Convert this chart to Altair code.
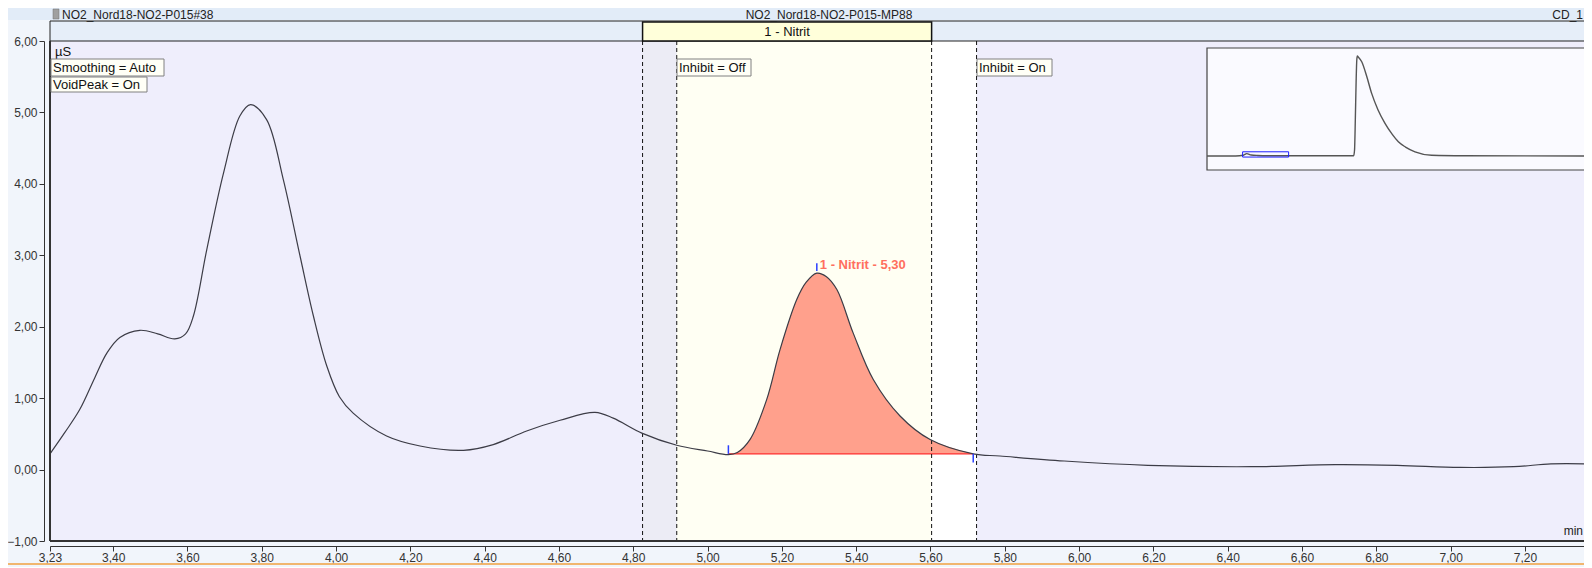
import altair as alt
import pandas as pd

# ---------------- data ----------------
time_min = [3.23, 3.27, 3.31, 3.35, 3.383, 3.418, 3.472, 3.52, 3.566, 3.595, 3.616, 3.652,
            3.697, 3.741, 3.770, 3.813, 3.858, 3.903, 3.939, 3.975, 4.009, 4.046, 4.136,
            4.226, 4.343, 4.423, 4.513, 4.603, 4.697, 4.746, 4.823, 4.917, 5.00, 5.056,
            5.08, 5.114, 5.159, 5.195, 5.240, 5.265, 5.294, 5.32, 5.348, 5.392, 5.446,
            5.518, 5.599, 5.715, 5.787, 5.96, 6.185, 6.465, 6.689, 6.857, 7.025, 7.17,
            7.27, 7.37]
signal_us = [0.22, 0.52, 0.84, 1.28, 1.63, 1.85, 1.95, 1.90, 1.83, 1.90, 2.15, 3.08,
             4.15, 4.95, 5.11, 4.90, 4.06, 2.99, 2.15, 1.45, 1.02, 0.79, 0.47,
             0.33, 0.27, 0.35, 0.54, 0.69, 0.80, 0.72, 0.51, 0.34, 0.26, 0.21,
             0.24, 0.42, 0.98, 1.68, 2.38, 2.62, 2.75, 2.70, 2.52, 1.91, 1.26,
             0.75, 0.42, 0.22, 0.19, 0.12, 0.06, 0.04, 0.07, 0.06, 0.03, 0.04,
             0.08, 0.08]

peak_label = "1 - Nitrit - 5,30"
peak_window_name = "1 - Nitrit"
peak_start = 5.056
peak_apex_t = 5.294
peak_end = 5.715
peak_baseline = 0.22
peak_apex_v = 2.75

window_start = 4.825
window_end = 5.603
inhibit_off_t = 4.917
inhibit_on_t = 5.724

inset_time = [0, 2.6, 3.3, 3.6, 4.0, 4.6, 5.5, 13.30, 13.38, 13.45, 13.52, 13.58, 13.63,
              13.72, 14.03, 14.5, 14.93, 15.5, 16.14, 16.8, 17.35, 18.0, 18.86, 20.37,
              23.3, 36]
inset_signal = [0, 0, 1.5, 4.5, 2, 1, 0.5, 0.5, 12, 70, 140, 182, 190,
                188, 179, 150, 119, 88, 62, 41, 27, 17, 8, 1.5,
                0.5, 0]

x_major = [3.23, 3.4, 3.6, 3.8, 4.0, 4.2, 4.4, 4.6, 4.8, 5.0, 5.2, 5.4, 5.6, 5.8,
           6.0, 6.2, 6.4, 6.6, 6.8, 7.0, 7.2]
x_tick_values = sorted(set(x_major + [round(3.25 + 0.05 * i, 2) for i in range(83)]))
y_tick_values = [round(-1 + 0.25 * i, 2) for i in range(29)]

X_DOMAIN = [3.23, 7.359]
Y_DOMAIN = [-1, 6]
W, H = 1534, 500
FONT = "Liberation Sans"
INTERP = "catmull-rom"

trace = pd.DataFrame({"t": time_min, "v": signal_us})
peak_df = trace[(trace.t >= peak_start) & (trace.t <= peak_end)]

xs = alt.Scale(domain=X_DOMAIN, nice=False, zero=False)
ys = alt.Scale(domain=Y_DOMAIN, nice=False, zero=False)

major_list = "[" + ",".join(str(v) for v in x_major) + "]"
x_axis = alt.Axis(
    values=x_tick_values, offset=5, grid=False, title=None,
    labelExpr=f"indexof({major_list}, round(datum.value*100)/100) >= 0 ? replace(format(datum.value, '.2f'), '.', ',') : ''",
    labelOverlap=False, labelFlush=False, labelFont=FONT, labelFontSize=12, labelColor="#333",
    labelPadding=1, domainColor="#333", tickColor="#333",
    tickSize={"condition": {"test": f"indexof({major_list}, round(datum.value*100)/100) >= 0", "value": 5}, "value": 3},
)
y_axis = alt.Axis(
    values=y_tick_values, offset=6, grid=False, title=None,
    labelExpr="datum.value % 1 === 0 ? replace(format(datum.value, '.2f'), '.', ',') : ''",
    labelOverlap=False, labelFlush=False, labelFont=FONT, labelFontSize=12, labelColor="#333",
    labelPadding=2, domainColor="#333", tickColor="#333",
    tickSize={"condition": {"test": "datum.value % 1 === 0", "value": 5}, "value": 3},
)

one = pd.DataFrame({"k": [0]})


def px_rect(x0, x1, y0, y1, fill, stroke=None, sw=1):
    kw = {"fill": fill}
    if stroke:
        kw.update(stroke=stroke, strokeWidth=sw)
    return alt.Chart(one).mark_rect(**kw).encode(
        x=alt.value(x0), x2=alt.value(x1), y=alt.value(y0), y2=alt.value(y1))


def px_text(txt, x, y, align="left", size=13, color="#111", weight="normal"):
    return alt.Chart(pd.DataFrame({"text": [txt]})).mark_text(
        align=align, baseline="middle", font=FONT, fontSize=size, color=color, fontWeight=weight
    ).encode(x=alt.value(x), y=alt.value(y), text="text:N")


def label_box(txt, x0, x1, y0, y1):
    return [px_rect(x0, x1, y0, y1, "#FFFFF6", "#808080", 1),
            px_text(txt, x0 + 2, (y0 + y1) / 2 + 0.5)]


# background of plot
bg = px_rect(0, W, 0, H, "#EFEEFC")
zones = pd.DataFrame({
    "start": [window_start, inhibit_off_t, window_end],
    "end": [inhibit_off_t, window_end, inhibit_on_t],
    "fill": ["#ECECF5", "#FFFFF3", "#FFFFFF"],
})
zone_rects = alt.Chart(zones).mark_rect().encode(
    x=alt.X("start:Q", scale=xs), x2="end:Q", y=alt.value(0), y2=alt.value(H),
    color=alt.Color("fill:N", scale=None))

# header
top_strip = px_rect(-42, W + 10, -33, -21, "#E2ECF8")
row2 = px_rect(0, W + 30, -20, 0, "#E6EEF9", "#222", 1)
nitrit_box = alt.Chart(one).mark_rect(fill="#FFFFDA", stroke="#111", strokeWidth=1.5).encode(
    x=alt.datum(window_start), x2=alt.datum(window_end), y=alt.value(-19), y2=alt.value(0))
nitrit_txt = alt.Chart(pd.DataFrame({"text": [peak_window_name]})).mark_text(
    font=FONT, fontSize=13, color="#111", baseline="middle").encode(
    x=alt.datum((window_start + window_end) / 2), y=alt.value(-9.5), text="text:N")
icon = px_rect(3, 9, -32, -22, "#A0A0A0", "#707070", 0.5)
title_l = px_text("NO2_Nord18-NO2-P015#38", 12, -26.5, size=12, color="#222")
title_c = px_text("NO2_Nord18-NO2-P015-MP88", 779, -26.5, align="center", size=12, color="#222")
title_r = px_text("CD_1", W - 1, -26.5, align="right", size=12, color="#222")

# dashed event lines
events = pd.DataFrame({"t": [window_start, inhibit_off_t, window_end, inhibit_on_t]})
event_lines = alt.Chart(events).mark_rule(color="#111", strokeDash=[4, 3], strokeWidth=1).encode(
    x=alt.X("t:Q", scale=xs), y=alt.value(0), y2=alt.value(H))

# peak area and baseline
peak_area = alt.Chart(peak_df).mark_area(color="#FFA08C", opacity=1, interpolate=INTERP).encode(
    x=alt.X("t:Q", scale=xs), y=alt.Y("v:Q", scale=ys), y2=alt.datum(peak_baseline))
base_line = alt.Chart(one).mark_rule(color="#FF2A2A", strokeWidth=1.2).encode(
    x=alt.datum(peak_start), x2=alt.datum(peak_end), y=alt.datum(peak_baseline))

curve = alt.Chart(trace).mark_line(color="#3C3C46", strokeWidth=1.2, interpolate=INTERP).encode(
    x=alt.X("t:Q", scale=xs, axis=x_axis), y=alt.Y("v:Q", scale=ys, axis=y_axis))

markers = pd.DataFrame({
    "t": [peak_start, peak_apex_t, peak_end],
    "a": [peak_baseline, peak_apex_v + 0.03, peak_baseline],
    "b": [peak_baseline + 0.12, peak_apex_v + 0.14, peak_baseline - 0.12],
})
marker_rules = alt.Chart(markers).mark_rule(color="#2B3FFF", strokeWidth=1.5).encode(
    x=alt.X("t:Q", scale=xs), y=alt.Y("a:Q", scale=ys), y2="b:Q")
peak_txt = alt.Chart(pd.DataFrame({"text": [peak_label]})).mark_text(
    align="left", baseline="middle", dx=3, dy=-8, font=FONT, fontSize=13, fontWeight="bold",
    color="#FF6F5E").encode(x=alt.datum(peak_apex_t), y=alt.datum(peak_apex_v), text="text:N")

# borders
border_left = alt.Chart(one).mark_rule(color="#333", strokeWidth=2).encode(
    x=alt.value(0), y=alt.value(0), y2=alt.value(H))
border_bottom = alt.Chart(one).mark_rule(color="#333", strokeWidth=2).encode(
    x=alt.value(0), x2=alt.value(W), y=alt.value(H))
orange = alt.Chart(one).mark_rule(color="#F0A040", strokeWidth=1.5).encode(
    x=alt.value(-42), x2=alt.value(W), y=alt.value(523))

# annotations
annots = []
annots += [px_text("µS", 5, 11)]
annots += label_box("Smoothing = Auto", 1, 114, 18, 35)
annots += label_box("VoidPeak = On", 1, 97, 36, 51)
annots += label_box("Inhibit = Off", 627, 701, 18, 35)
annots += label_box("Inhibit = On", 927, 1002, 18, 35)
annots += [px_text("min", W - 1, 490, align="right", size=12, color="#222")]

inset_box = px_rect(1157, W + 20, 7, 129, "#FAFAFF", "#444", 1.2)

main = alt.layer(
    bg, zone_rects, top_strip, row2, nitrit_box, nitrit_txt, icon, title_l, title_c, title_r,
    peak_area, base_line, event_lines, curve, marker_rules, peak_txt,
    border_left, border_bottom, orange, inset_box, *annots,
)

# inset overview with its own scales
ixs = alt.Scale(domain=[0, 35], range=[1157, 1543], nice=False, zero=False)
iys = alt.Scale(domain=[-26.6, 205.2], range=[129, 7], nice=False, zero=False)
inset_df = pd.DataFrame({"t": inset_time, "v": inset_signal})
inset_line = alt.Chart(inset_df).mark_line(color="#555", strokeWidth=1.4, interpolate="monotone").encode(
    x=alt.X("t:Q", scale=ixs, axis=None), y=alt.Y("v:Q", scale=iys, axis=None))
inset_zoom = alt.Chart(one).mark_rect(fill=None, stroke="#2020FF", strokeWidth=1).encode(
    x=alt.datum(X_DOMAIN[0]), x2=alt.datum(7.4), y=alt.datum(-2), y2=alt.datum(8))
inset = alt.layer(inset_line, inset_zoom)

chart = alt.layer(main, inset).resolve_scale(x="independent", y="independent").properties(
    width=W, height=H,
    autosize=alt.AutoSizeParams(type="none"),
    padding={"left": 42, "top": 33, "right": 0, "bottom": 26},
    background="#F1F5FB",
).configure_view(stroke=None)

chart.save("out.html", embed_options={"renderer": "svg", "actions": False})
